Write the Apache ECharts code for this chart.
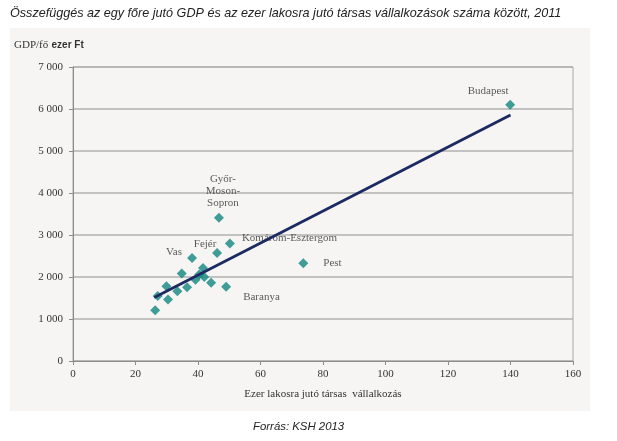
<!DOCTYPE html>
<html lang="hu">
<head>
<meta charset="UTF-8">
<title>GDP/fő és társas vállalkozások</title>
<script src="https://cdn.jsdelivr.net/npm/echarts@6/dist/echarts.min.js"></script>
<style>
  * { margin: 0; padding: 0; }
  html, body { width: 617px; height: 441px; background: #fff; }
  #main { width: 617px; height: 441px; }
</style>
</head>
<body>
<div id="main"></div>
<script>
// megyék (a felirat nélküli pontok neve üres)
var names = ['Budapest', 'Győr-Moson-Sopron', 'Komárom-Esztergom', 'Fejér', 'Vas', 'Pest', 'Baranya',
  '', '', '', '', '', '', '', '', '', '', '', ''];
// ezer lakosra jutó társas vállalkozás
var firms = [139.9, 46.7, 50.2, 46.1, 38.1, 73.7, 49.0,
  26.3, 27.1, 29.9, 30.4, 33.4, 34.8, 36.5, 39.2, 40.4, 41.6, 42.0, 44.2];
// GDP/fő, ezer Ft
var gdp = [6100, 3410, 2800, 2570, 2450, 2330, 1770,
  1210, 1550, 1780, 1465, 1660, 2085, 1755, 1935, 2060, 2215, 2000, 1865];
// trendvonal két végpontja
var trendX = [26, 140];
var trendY = [1510, 5860];

var labelStyle = {
  'Budapest': { align: 'center', offset: [-22, -14] },
  'Győr-Moson-Sopron': { align: 'center', offset: [4, -27], text: 'Győr-\nMoson-\nSopron' },
  'Komárom-Esztergom': { align: 'left', offset: [12, -5] },
  'Fejér': { align: 'center', offset: [-12, -9] },
  'Vas': { align: 'center', offset: [-18, -6] },
  'Pest': { align: 'left', offset: [20, 0] },
  'Baranya': { align: 'left', offset: [17, 10] }
};

var serif = '"Liberation Serif", "DejaVu Serif", serif';
var teal = '#12867f';

var points = names.map(function (n, i) {
  var item = { name: n, value: [firms[i], gdp[i]] };
  var st = labelStyle[n];
  if (st) {
    item.label = {
      show: true, position: 'inside', align: st.align, offset: st.offset,
      formatter: st.text || n
    };
  }
  return item;
});

var myChart = echarts.init(document.getElementById('main'));
var option = {
  animation: false,
  backgroundColor: '#ffffff',
  graphic: [
    { type: 'rect', z: -10, shape: { x: 10, y: 28, width: 580, height: 383 }, style: { fill: '#f6f5f3' } },
    {
      type: 'text', left: 10, top: 7,
      style: {
        text: 'Összefüggés az egy főre jutó GDP és az ezer lakosra jutó társas vállalkozások száma között, 2011',
        font: 'italic 12.6px "Liberation Sans", Arial, sans-serif', fill: '#222'
      }
    },
    {
      type: 'text', left: 14, top: 39,
      style: {
        text: '{a|GDP/fő} {b|ezer Ft}',
        rich: {
          a: { fontFamily: serif, fontSize: 11, fill: '#333' },
          b: { fontFamily: '"Liberation Sans", Arial, sans-serif', fontWeight: 'bold', fontSize: 10, fill: '#333' }
        }
      }
    },
    {
      type: 'text', left: 253, top: 421,
      style: { text: 'Forrás: KSH 2013', font: 'italic 11.4px "Liberation Sans", Arial, sans-serif', fill: '#222' }
    }
  ],
  grid: {
    left: 73, right: 44, top: 67, bottom: 80,
    show: true, borderColor: '#a8a8a8', borderWidth: 1, backgroundColor: 'transparent'
  },
  xAxis: {
    type: 'value', min: 0, max: 160, interval: 20,
    name: 'Ezer lakosra jutó társas  vállalkozás',
    nameLocation: 'middle', nameGap: 28,
    nameTextStyle: { fontFamily: serif, fontSize: 11, color: '#333' },
    axisLine: { show: true, lineStyle: { color: '#8c8c8c', width: 1 } },
    axisTick: { show: true, length: 4, lineStyle: { color: '#8c8c8c' } },
    axisLabel: { margin: 8, fontFamily: serif, fontSize: 11, color: '#333' },
    splitLine: { show: false }
  },
  yAxis: {
    type: 'value', min: 0, max: 7000, interval: 1000,
    axisLine: { show: true, lineStyle: { color: '#8c8c8c', width: 1 } },
    axisTick: { show: true, length: 4, lineStyle: { color: '#8c8c8c' } },
    axisLabel: {
      margin: 10, fontFamily: serif, fontSize: 11, color: '#333',
      formatter: function (v) { return v === 0 ? '0' : (v / 1000) + ' 000'; }
    },
    splitLine: { show: true, lineStyle: { color: '#b0b0b0', width: 1.5 } }
  },
  series: [
    {
      type: 'scatter',
      symbol: 'diamond',
      symbolSize: 10,
      itemStyle: { color: teal },
      label: { fontFamily: serif, fontSize: 11, color: '#333', lineHeight: 12 },
      data: points,
      z: 3
    },
    {
      type: 'line',
      data: trendX.map(function (x, i) { return [x, trendY[i]]; }),
      symbol: 'none',
      lineStyle: { color: '#1d2a62', width: 2.8 },
      z: 4
    }
  ]
};
myChart.setOption(option);
</script>
</body>
</html>
